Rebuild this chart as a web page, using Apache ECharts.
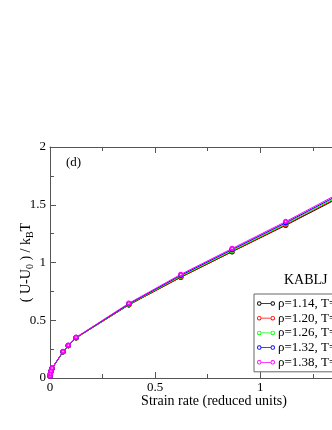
<!DOCTYPE html>
<html>
<head>
<meta charset="utf-8">
<script src="https://cdn.jsdelivr.net/npm/echarts@6/dist/echarts.min.js"></script>
<style>
    html, body { margin: 0; padding: 0; background: #fff; }
    #chart { width: 332px; height: 430px; }
</style>
</head>
<body>
<div id="chart"></div>
<script>
var strainRate = [0.0005, 0.002, 0.005, 0.01, 0.062, 0.087, 0.124, 0.375, 0.622, 0.866, 1.121, 1.37];
var rho114 = [0.015, 0.035, 0.058, 0.083, 0.226, 0.280, 0.347, 0.633, 0.872, 1.093, 1.322, 1.556];
var rho120 = [0.015, 0.035, 0.058, 0.083, 0.226, 0.280, 0.347, 0.634, 0.874, 1.096, 1.327, 1.562];
var rho126 = [0.016, 0.036, 0.059, 0.084, 0.227, 0.281, 0.349, 0.638, 0.882, 1.104, 1.336, 1.572];
var rho132 = [0.016, 0.036, 0.060, 0.085, 0.228, 0.282, 0.350, 0.642, 0.889, 1.112, 1.344, 1.582];
var rho138 = [0.017, 0.037, 0.061, 0.086, 0.229, 0.284, 0.352, 0.647, 0.897, 1.121, 1.354, 1.594];

var seriesNames = ['ρ=1.14, T=0.45', 'ρ=1.20, T=0.57', 'ρ=1.26, T=0.71', 'ρ=1.32, T=0.87', 'ρ=1.38, T=1.06'];
var seriesColors = ['#000000', '#ff0000', '#00ff00', '#0000ff', '#ff00ff'];
var seriesValues = [rho114, rho120, rho126, rho132, rho138];

var serif = '"Liberation Serif", "DejaVu Serif", serif';
var axisColor = '#555';

function pairs(xs, ys) {
    var out = [];
    for (var i = 0; i < xs.length; i++) {
        out.push([xs[i], ys[i]]);
    }
    return out;
}

var series = [];
for (var k = 0; k < seriesNames.length; k++) {
    series.push({
        name: seriesNames[k],
        type: 'line',
        data: pairs(strainRate, seriesValues[k]),
        symbol: 'emptyCircle',
        symbolSize: 3.5,
        lineStyle: { color: seriesColors[k], width: 1 },
        itemStyle: { color: seriesColors[k], borderWidth: 1 },
        animation: false
    });
}

// two rings joined by a line, like the xmgrace legend
var ringIcon = 'path://M0,3A3,3 0 1,1 6,3A3,3 0 1,1 0,3ZM1.2,3A1.8,1.8 0 1,0 4.8,3A1.8,1.8 0 1,0 1.2,3Z' +
    'M6,2.5L18,2.5L18,3.5L6,3.5Z' +
    'M18,3A3,3 0 1,1 24,3A3,3 0 1,1 18,3ZM19.2,3A1.8,1.8 0 1,0 22.8,3A1.8,1.8 0 1,0 19.2,3Z';

var chart = echarts.init(document.getElementById('chart'), null, { renderer: 'canvas' });

chart.setOption({
    backgroundColor: '#fff',
    animation: false,
    grid: { left: 50, top: 147, width: 328, height: 231, outerBoundsMode: 'none', containLabel: false },
    legend: {
        left: 254,
        top: 294,
        orient: 'vertical',
        icon: ringIcon,
        itemWidth: 18,
        itemHeight: 5,
        itemGap: 1.7,
        padding: [3, 4, 3, 3],
        borderColor: '#666',
        borderWidth: 1,
        textStyle: { fontFamily: serif, fontSize: 13, lineHeight: 12, color: '#000', padding: [0, 0, 0, -2] },
        data: seriesNames
    },
    graphic: [
        { type: 'text', left: 66, top: 156, style: { text: '(d)', font: '13px ' + serif, fill: '#000' } },
        { type: 'text', left: 284, top: 273, style: { text: 'KABLJ', font: '14px ' + serif, fill: '#000' } }
    ],
    xAxis: [{
        type: 'value',
        position: 'bottom',
        min: 0,
        max: 1.56,
        interval: 0.5,
        name: 'Strain rate (reduced units)',
        nameLocation: 'middle',
        nameGap: 16,
        nameMoveOverlap: false,
        nameTextStyle: { fontFamily: serif, fontSize: 14, color: '#000' },
        axisLine: { lineStyle: { color: axisColor, width: 1 } },
        axisTick: { inside: true, length: 6, lineStyle: { color: axisColor } },
        minorTick: { show: true, splitNumber: 2, length: 4, lineStyle: { color: axisColor } },
        axisLabel: {
            fontFamily: serif, fontSize: 13, color: '#000', margin: 3,
            showMaxLabel: false,
            formatter: function (v) { return String(v); }
        },
        splitLine: { show: false }
    }, {
        type: 'value',
        position: 'top',
        min: 0,
        max: 1.56,
        interval: 0.5,
        axisLine: { lineStyle: { color: axisColor, width: 1 } },
        axisTick: { inside: true, length: 6, lineStyle: { color: axisColor } },
        minorTick: { show: true, splitNumber: 2, length: 4, lineStyle: { color: axisColor } },
        axisLabel: { show: false },
        splitLine: { show: false }
    }],
    yAxis: {
        type: 'value',
        min: 0,
        max: 2,
        interval: 0.5,
        name: '{a|( U-U}{s|0}{a| ) / k}{s|B}{a|T}',
        nameLocation: 'middle',
        nameGap: 15,
        nameMoveOverlap: false,
        nameRotate: 90,
        nameTextStyle: {
            rich: {
                a: { fontFamily: serif, fontSize: 14, color: '#000' },
                s: { fontFamily: serif, fontSize: 10, color: '#000', padding: [8, 0, 0, 0] }
            }
        },
        axisLine: { lineStyle: { color: axisColor, width: 1 } },
        axisTick: { inside: true, length: 6, lineStyle: { color: axisColor } },
        minorTick: { show: true, splitNumber: 2, length: 4, lineStyle: { color: axisColor } },
        axisLabel: {
            fontFamily: serif, fontSize: 13, color: '#000', margin: 4,
            formatter: function (v) { return String(v); }
        },
        splitLine: { show: false }
    },
    series: series
});
</script>
</body>
</html>
